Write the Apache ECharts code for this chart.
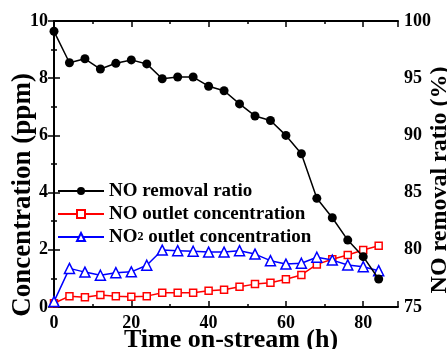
<!DOCTYPE html>
<html>
<head>
<meta charset="utf-8">
<script src="https://cdn.jsdelivr.net/npm/echarts@6/dist/echarts.min.js"></script>
<style>
  html, body { margin: 0; padding: 0; background: #fff; }
  #chart { width: 447px; height: 349px; }
</style>
</head>
<body>
<div id="chart"></div>
<script>
// time on-stream (h)
const times = [0, 4, 8, 12, 16, 20, 24, 28, 32, 36, 40, 44, 48, 52, 56, 60, 64, 68, 72, 76, 80, 84];
// NO removal ratio (%), right axis
const removalRatio = [99.1, 96.35, 96.7, 95.8, 96.3, 96.6, 96.25, 94.95, 95.1, 95.1, 94.3, 93.9, 92.75, 91.7, 91.3, 90.0, 88.4, 84.5, 82.8, 80.85, 79.4, 77.45];
// NO outlet concentration (ppm)
const noOutlet = [0.13, 0.38, 0.34, 0.42, 0.38, 0.36, 0.38, 0.5, 0.5, 0.5, 0.57, 0.6, 0.71, 0.8, 0.85, 0.97, 1.12, 1.49, 1.67, 1.82, 1.99, 2.14];
// NO2 outlet concentration (ppm)
const no2Outlet = [0.19, 1.35, 1.22, 1.11, 1.2, 1.23, 1.46, 1.99, 1.97, 1.95, 1.92, 1.92, 1.97, 1.85, 1.62, 1.5, 1.53, 1.74, 1.64, 1.47, 1.41, 1.27];

const font = 'Liberation Serif';
const pairs = arr => times.map((t, i) => [t, arr[i]]);

const axisCommon = {
  axisLine: { show: true, lineStyle: { color: '#000', width: 2 } },
  axisTick: { show: true, inside: true, length: 6, lineStyle: { color: '#000', width: 1.5 } },
  minorTick: { show: true, splitNumber: 2, length: 3, lineStyle: { color: '#000', width: 1.5 } },
  splitLine: { show: false },
  nameMoveOverlap: false,
  axisLabel: { color: '#000', fontFamily: font, fontWeight: 'bold', fontSize: 18, showMaxLabel: true }
};
const nameStyle = size => ({ color: '#000', fontFamily: font, fontWeight: 'bold', fontSize: size });

const chart = echarts.init(document.getElementById('chart'));
chart.setOption({
  animation: false,
  grid: { left: 54, right: 49, top: 21, bottom: 42, containLabel: false, outerBoundsMode: 'none' },
  legend: {
    orient: 'vertical',
    left: 57,
    top: 181,
    padding: 0,
    itemWidth: 46,
    itemHeight: 10,
    itemGap: 3,
    textStyle: {
      color: '#000', fontFamily: font, fontWeight: 'bold', fontSize: 19, lineHeight: 20,
      rich: {
        n: { fontFamily: font, fontWeight: 'bold', fontSize: 19, lineHeight: 20, color: '#000' },
        s: { fontFamily: font, fontWeight: 'bold', fontSize: 12, lineHeight: 20, color: '#000' }
      }
    },
    formatter: name => name === 'NO2 outlet concentration'
      ? '{n|NO}{s|2}{n| outlet concentration}'
      : name,
    data: ['NO removal ratio', 'NO outlet concentration', 'NO2 outlet concentration']
  },
  xAxis: [
    Object.assign({}, axisCommon, {
      type: 'value', min: 0, max: 89, interval: 20,
      name: 'Time on-stream (h)', nameLocation: 'middle', nameGap: 20,
      nameTextStyle: Object.assign(nameStyle(26), { padding: [0, 0, 0, 10] }),
      axisLabel: Object.assign({}, axisCommon.axisLabel, { margin: 7, showMaxLabel: false })
    }),
    Object.assign({}, axisCommon, {
      type: 'value', min: 0, max: 89, interval: 20, position: 'top',
      axisLabel: { show: false }
    })
  ],
  yAxis: [
    Object.assign({}, axisCommon, {
      type: 'value', min: 0, max: 10, interval: 2,
      name: 'Concentration (ppm)', nameLocation: 'middle', nameGap: 17,
      nameTextStyle: Object.assign(nameStyle(27), { padding: [0, 62, 0, 0] }),
      axisLabel: Object.assign({}, axisCommon.axisLabel, { margin: 6 })
    }),
    Object.assign({}, axisCommon, {
      type: 'value', min: 75, max: 100, interval: 5, position: 'right',
      name: 'NO removal ratio (%)', nameLocation: 'middle', nameGap: 30,
      nameTextStyle: Object.assign(nameStyle(24), { padding: [0, 32, 0, 0] }),
      axisLabel: Object.assign({}, axisCommon.axisLabel, { margin: 6 })
    })
  ],
  series: [
    {
      name: 'NO removal ratio', type: 'line', yAxisIndex: 1, z: 5,
      data: pairs(removalRatio),
      symbol: 'circle', symbolSize: 9,
      lineStyle: { color: '#000', width: 1.5 },
      itemStyle: { color: '#000' }
    },
    {
      name: 'NO outlet concentration', type: 'line', yAxisIndex: 0, z: 3,
      data: pairs(noOutlet),
      symbol: 'rect', symbolSize: 7,
      lineStyle: { color: '#ff0000', width: 1.5 },
      itemStyle: { color: '#fff', borderColor: '#ff0000', borderWidth: 1.5 }
    },
    {
      name: 'NO2 outlet concentration', type: 'line', yAxisIndex: 0, z: 4,
      data: pairs(no2Outlet),
      symbol: 'triangle', symbolSize: 10,
      lineStyle: { color: '#0000ff', width: 1.5 },
      itemStyle: { color: '#fff', borderColor: '#0000ff', borderWidth: 1.5 }
    }
  ]
});
</script>
</body>
</html>
